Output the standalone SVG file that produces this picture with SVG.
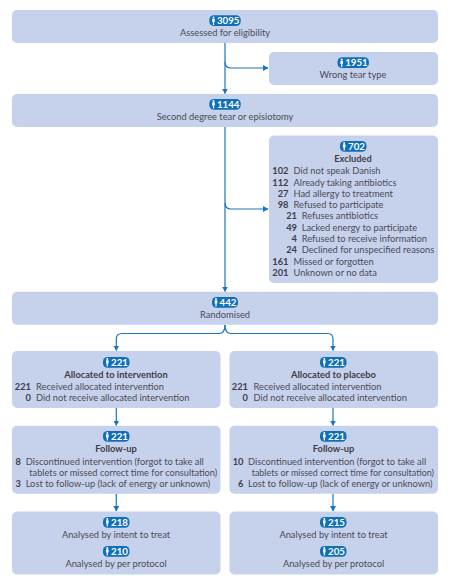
<svg xmlns="http://www.w3.org/2000/svg" width="452" height="578" viewBox="0 0 452 578">
<style>
text{font-family:"Lato","Noto Sans",sans-serif;font-size:9.3px;fill:#4c4a55}
.c{text-anchor:middle}
.b{font-weight:700;fill:#3f3d47}
.r{text-anchor:end;font-weight:700;fill:#3f3d47}
.n{font-weight:700;fill:#fff;font-size:9.700px;text-anchor:middle}
.box{fill:#c6d2ec}
.pill{fill:#0f70b7}
.ic{fill:#fff}
.ln{fill:none;stroke:#1b75bc;stroke-width:1.2}
.ah{fill:#1b75bc}
</style>
<defs>
<g id="person"><circle cx="0" cy="-3.6" r="1"/><path d="M-1.3-2.300H1.300V1H.6V4H-.6V1H-1.300Z"/></g>
<marker id="a" markerUnits="userSpaceOnUse" markerWidth="6" markerHeight="6" refX="5" refY="3" orient="auto"><path class="ah" d="M0 0L5.500 3L0 6Z"/></marker>
</defs>
<g id="connectors">
<path class="ln" d="M225 43V93.500" marker-end="url(#a)"/>
<path class="ln" d="M225 62Q225 68 231 68H268" marker-end="url(#a)"/>
<path class="ln" d="M225 127V291.500" marker-end="url(#a)"/>
<path class="ln" d="M225 203Q225 209 231 209H268" marker-end="url(#a)"/>
<path class="ln" d="M225 325Q225 333.500 219 333.500H122Q116.300 333.500 116.300 339V350.500" marker-end="url(#a)"/>
<path class="ln" d="M225 325Q225 333.500 231 333.500H327.500Q333 333.500 333 339V350.500" marker-end="url(#a)"/>
<path class="ln" d="M116.300 408V425.500" marker-end="url(#a)"/>
<path class="ln" d="M333 408V425.500" marker-end="url(#a)"/>
<path class="ln" d="M116.300 494V511" marker-end="url(#a)"/>
<path class="ln" d="M333 494V511" marker-end="url(#a)"/>
</g>
<g id="n3095"><rect class="box" x="12" y="10" width="426" height="33" rx="5"/><rect class="pill" x="209.300" y="15.300" width="31.400" height="10.700" rx="4.500"/><use href="#person" class="ic" x="213.500" y="21"/><text class="n" x="228.200" y="24.300">3095</text><text class="c" x="225" y="36">Assessed for eligibility</text></g>
<g id="n1951"><rect class="box" x="269" y="52" width="169" height="33" rx="5"/><rect class="pill" x="337.500" y="57.300" width="31.400" height="10.700" rx="4.500"/><use href="#person" class="ic" x="341.700" y="63"/><text class="n" x="356.400" y="66.300">1951</text><text class="c" x="353" y="78">Wrong tear type</text></g>
<g id="n1144"><rect class="box" x="12" y="94" width="426" height="33" rx="5"/><rect class="pill" x="209.300" y="99" width="31.400" height="10.700" rx="4.500"/><use href="#person" class="ic" x="213.500" y="104.500"/><text class="n" x="228.200" y="107.900">1144</text><text class="c" x="225" y="120">Second degree tear or episiotomy</text></g>
<g id="n702"><rect class="box" x="269" y="135.500" width="169" height="147.500" rx="5"/><rect class="pill" x="340" y="141" width="26.500" height="10.700" rx="4.500"/><use href="#person" class="ic" x="344.200" y="146.500"/><text class="n" x="356.500" y="149.900">702</text><text class="c b" x="353" y="162">Excluded</text>
<text class="r" x="288.500" y="174">102</text><text x="293.500" y="174">Did not speak Danish</text>
<text class="r" x="288.500" y="186">112</text><text x="293.500" y="186">Already taking antibiotics</text>
<text class="r" x="288.500" y="197">27</text><text x="293.500" y="197">Had allergy to treatment</text>
<text class="r" x="288.500" y="208">98</text><text x="293.500" y="208">Refused to participate</text>
<text class="r" x="297" y="219">21</text><text x="301.700" y="219">Refuses antibiotics</text>
<text class="r" x="297" y="231">49</text><text x="301.700" y="231">Lacked energy to participate</text>
<text class="r" x="297" y="242">4</text><text x="301.700" y="242">Refused to receive information</text>
<text class="r" x="297" y="253">24</text><text x="301.700" y="253">Declined for unspecified reasons</text>
<text class="r" x="288.500" y="265">161</text><text x="293.500" y="265">Missed or forgotten</text>
<text class="r" x="288.500" y="276">201</text><text x="293.500" y="276">Unknown or no data</text></g>
<g id="n442"><rect class="box" x="12" y="291.700" width="426" height="33" rx="5"/><rect class="pill" x="212" y="297" width="26" height="10.700" rx="4.500"/><use href="#person" class="ic" x="216" y="302.500"/><text class="n" x="228" y="305.900">442</text><text class="c" x="225" y="318">Randomised</text></g>
<g id="n221a"><rect class="box" x="12" y="351" width="208.500" height="57" rx="5"/><rect class="pill" x="103" y="357" width="26.500" height="10.700" rx="4.500"/><use href="#person" class="ic" x="107.300" y="362.500"/><text class="n" x="119.500" y="365.900">221</text><text class="c b" x="116" y="378">Allocated to intervention</text>
<text class="r" x="31" y="390">221</text><text x="36" y="390">Received allocated intervention</text>
<text class="r" x="31" y="401">0</text><text x="36" y="401">Did not receive allocated intervention</text></g>
<g id="n221b"><rect class="box" x="229.500" y="351" width="208.500" height="57" rx="5"/><rect class="pill" x="320" y="357" width="26.500" height="10.700" rx="4.500"/><use href="#person" class="ic" x="324.300" y="362.500"/><text class="n" x="336.500" y="365.900">221</text><text class="c b" x="333.500" y="378">Allocated to placebo</text>
<text class="r" x="248" y="390">221</text><text x="253.500" y="390">Received allocated intervention</text>
<text class="r" x="248" y="401">0</text><text x="253.500" y="401">Did not receive allocated intervention</text></g>
<g id="nfu-a"><rect class="box" x="12" y="425.700" width="208.500" height="68" rx="5"/><rect class="pill" x="103" y="431" width="26.500" height="10.700" rx="4.500"/><use href="#person" class="ic" x="107.300" y="436.500"/><text class="n" x="119.500" y="439.900">221</text><text class="c b" x="116" y="452">Follow-up</text>
<text class="r" x="21" y="465">8</text><text x="25.700" y="465">Discontinued intervention (forgot to take all</text><text x="29.300" y="476" textLength="188" lengthAdjust="spacingAndGlyphs">tablets or missed correct time for consultation)</text>
<text class="r" x="21" y="487">3</text><text x="25.700" y="487">Lost to follow-up (lack of energy or unknown)</text></g>
<g id="nfu-b"><rect class="box" x="229.500" y="425.700" width="208.500" height="68" rx="5"/><rect class="pill" x="320" y="431" width="26.500" height="10.700" rx="4.500"/><use href="#person" class="ic" x="324.300" y="436.500"/><text class="n" x="336.500" y="439.900">221</text><text class="c b" x="333.500" y="452">Follow-up</text>
<text class="r" x="243.500" y="465">10</text><text x="248" y="465">Discontinued intervention (forgot to take all</text><text x="251.700" y="476" textLength="182.300" lengthAdjust="spacingAndGlyphs">tablets or missed correct time for consultation)</text>
<text class="r" x="243.500" y="487">6</text><text x="248" y="487">Lost to follow-up (lack of energy or unknown)</text></g>
<g id="nan-a"><rect class="box" x="12" y="511.500" width="208.500" height="63" rx="5"/><rect class="pill" x="103" y="517" width="26.500" height="10.700" rx="4.500"/><use href="#person" class="ic" x="107.300" y="522.500"/><text class="n" x="119.500" y="525.900">218</text><text class="c" x="116" y="538">Analysed by intent to treat</text><rect class="pill" x="103" y="546" width="26.500" height="10.700" rx="4.500"/><use href="#person" class="ic" x="107.300" y="551.500"/><text class="n" x="119.500" y="554.900">210</text><text class="c" x="116" y="567">Analysed by per protocol</text></g>
<g id="nan-b"><rect class="box" x="229.500" y="511.500" width="208.500" height="63" rx="5"/><rect class="pill" x="320" y="517" width="26.500" height="10.700" rx="4.500"/><use href="#person" class="ic" x="324.300" y="522.500"/><text class="n" x="336.500" y="525.900">215</text><text class="c" x="333.500" y="538">Analysed by intent to treat</text><rect class="pill" x="320" y="546" width="26.500" height="10.700" rx="4.500"/><use href="#person" class="ic" x="324.300" y="551.500"/><text class="n" x="336.500" y="554.900">205</text><text class="c" x="333.500" y="567">Analysed by per protocol</text></g>
</svg>
